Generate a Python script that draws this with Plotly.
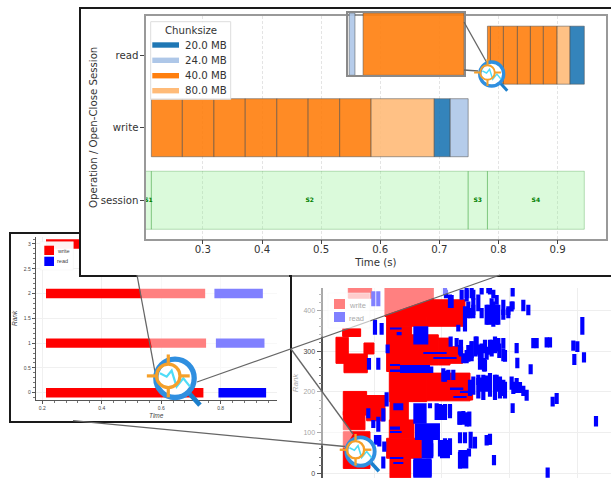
import plotly.graph_objects as go

W, H = 611, 478

# ---------- top panel: I/O timeline ----------
op_positions = [0, 1, 2]
op_labels = ["session", "write", "read"]

chunk_labels = ["20.0 MB", "24.0 MB", "40.0 MB", "80.0 MB"]
chunk_colors = ["#1f77b4", "#aec7e8", "#ff7f0e", "#ffbb78"]

write_edges = [0.2128, 0.2652, 0.3186, 0.3716, 0.425, 0.478, 0.5314, 0.5845, 0.6914, 0.7184, 0.7488]
write_chunks = ["40.0 MB"] * 7 + ["80.0 MB", "20.0 MB", "24.0 MB"]
read_edges = [0.7814, 0.7865, 0.8084, 0.8321, 0.8541, 0.876, 0.8992, 0.9211, 0.9453]
read_chunks = ["40.0 MB"] * 6 + ["80.0 MB", "20.0 MB"]

session_names = ["S1", "S2", "S3", "S4"]
session_edges = [0.2028, 0.2128, 0.7488, 0.7814, 0.9453]

inset_edges = [0.7702, 0.7712, 0.7726, 0.79]
inset_chunks = ["24.0 MB", None, "40.0 MB"]

# ---------- left panel: per-rank timeline ----------
small_ranks = [0, 1, 2, 3]
small_write_start = [0.2125, 0.2125, 0.2125, 0.2125]
small_write_end = [0.742, 0.751, 0.748, 0.75]
small_read_start = [0.7926, 0.784, 0.779, 0.78]
small_read_end = [0.953, 0.9475, 0.942, 0.945]

# ---------- right panel: large run ----------
red_t0 = [17.5, 28.5, 29, 41, 29, 15.8, 13.8, 22.2, 16.2, 36.5, 44.5, 48, 29.8, 41, 54, 30, 29.8, 29, 30, 16, 23, 16, 16]
red_t1 = [24.5, 43, 41, 52.5, 36.5, 21.2, 17.5, 25.2, 23.2, 44.5, 48, 51.8, 41, 54, 54.8, 35.5, 37.2, 39.5, 36.2, 23, 28.5, 22.5, 24]
red_lo = [430, 385, 361, 361, 250, 336, 270, 293, 247, 266, 266, 270, 176, 178, 180, 127, 86, 37, -11, 143, 129, 107, 12]
red_hi = [455, 455, 389, 426, 361, 355, 334, 320, 293, 340, 332, 311, 266, 246, 217, 176, 131, 86, 37, 201, 191, 152, 102]

blue_t = [53, 54.5, 57.5, 60, 66.8, 52.5, 54, 55, 56.5, 59, 60.5, 62, 64, 65.5, 66.8, 70, 71.5, 48, 25.5, 27.5, 25, 26.5, 87.7,
          48.2, 50, 51.3, 53, 54.5, 55.7, 57, 58.2, 59, 60.5, 62.5, 64, 68, 68.2, 72.2, 73, 74, 77, 78, 85, 86.2, 85.3, 88.2, 26.5, 23.7, 29.3,
          46.5, 49, 55, 56.5, 58, 60, 61.5, 63, 64.5, 66.5, 68, 69, 71, 78.8, 80, 29,
          42, 45, 46.5, 48, 50.8, 52, 53, 53.8, 66.8, 91.8, 51, 52.5, 59, 60, 28, 26.5, 25, 23.5, 25.8, 26.8, 28.3,
          41.5, 45, 46.5, 48, 51, 52.5, 53.7, 61.2, 28, 77.3,
          46.8, 48.5, 46.5, 51.5, 53, 55, 59.5, 61, 62, 53.5, 55, 57.5, 59.5, 61, 62.5, 64, 65.5, 66.5, 52.5, 50.5,
          51, 52, 53.5, 54.5, 56, 57.5, 58.5, 60, 61.5, 62.8, 64, 64.5, 57, 58.5,
          46, 47.5, 56.5, 58, 59, 62, 64, 67, 54, 57.5, 70,
          44, 46, 48, 51, 54.2, 55.5]
blue_lo = [430, 430, 439, 439, 434, 377, 381, 389, 398, 365, 365, 365, 377, 381, 402, 398, 388, 406, 340, 340, 410, 410, 340,
           311, 311, 287, 270, 275, 287, 279, 250, 279, 287, 299, 275, 295, 258, 243, 307, 307, 309, 309, 301, 298, 266, 272, 254, 254, 295,
           225, 229, 193, 184, 180, 188, 180, 184, 184, 205, 197, 197, 178, 164, 170, 164,
           160, 131, 131, 135, 119, 119, 115, 115, 148, 115, 74, 74, 68, 70, 127, 102, 111, 135, 70, 66, 53,
           37, 41, 45, 45, 12, 25, 41, 20, 12, -11,
           430, 406, 438, 426, 422, 426, 442, 430, 414, 381, 381, 381, 365, 360, 365, 389, 389, 397, 348, 348,
           291, 270, 274, 283, 291, 279, 295, 291, 295, 283, 307, 274, 254, 250,
           225, 229, 217, 221, 200, 200, 190, 195, 190, 200, 190,
           131, 131, 143, 119, 61, 61]
blue_hi = [451, 455, 455, 455, 455, 410, 406, 430, 439, 414, 430, 414, 402, 406, 422, 426, 414, 439, 377, 369, 447, 447, 384,
           336, 332, 328, 303, 324, 336, 316, 283, 311, 328, 332, 307, 320, 284, 268, 332, 332, 334, 334, 326, 324, 293, 297, 284, 283, 316,
           252, 254, 238, 234, 225, 246, 242, 238, 225, 238, 234, 224, 205, 188, 197, 199,
           172, 170, 170, 170, 152, 153, 150, 152, 172, 141, 101, 101, 94, 97, 160, 139, 131, 160, 94, 94, 78,
           78, 82, 86, 86, 53, 57, 61, 45, 41, 14,
           451, 438, 455, 451, 455, 451, 455, 451, 438, 422, 414, 406, 414, 422, 414, 426, 410, 422, 381, 365,
           315, 295, 315, 324, 336, 319, 328, 328, 336, 319, 332, 303, 283, 279,
           258, 254, 242, 242, 240, 242, 230, 225, 230, 235, 215,
           172, 168, 168, 152, 102, 90]

blob_t0 = [37, 33, 37, 37.5, 40.5, 37, 41.5, 31, 39.5, 37, 45, 50.5, 58.5, 30, 32, 30, 30, 30, 30, 30, 31, 40, 43, 48, 51, 49]
blob_t1 = [41.5, 42, 41, 45, 43, 42.5, 43, 34, 43, 42.5, 48, 53.5, 60.5, 33.5, 33.5, 33, 34.5, 33, 33.5, 34, 34, 47, 50, 52, 54.5, 53]
blob_lo = [316, 246, 122, 82, 41, -11, 246, 155, 37, -8, 37, 12, 70, 353, 339, 265, 251, 107, 100, 36, 23, 293, 281, 207, 199, 186]
blob_hi = [361, 266, 172, 123, 74, 33, 262, 172, 82, 37, 82, 57, 94, 358, 347, 268, 255, 115, 103, 39, 27, 296, 284, 211, 203, 190]

big_time_gridlines = [25.3, 45.6, 66.0, 86.3]


# ---------- layout helpers (pixel frame of the page) ----------
def dom_x(a, b):
    return [a / W, min(b / W, 1)]


def dom_y(top, bottom):
    return [max(1 - bottom / H, 0), 1 - top / H]


def px(x):
    return x / W


def py(y):
    return 1 - y / H


def line_shape(x0, y0, x1, y1, color="#666666", width=1.3):
    return dict(type="line", xref="paper", yref="paper", x0=px(x0), y0=py(y0), x1=px(x1), y1=py(y1),
                line=dict(color=color, width=width))


def rect_shape(x0, y0, x1, y1, fill, line_color="rgba(0,0,0,0)", width=0):
    return dict(type="rect", xref="paper", yref="paper", x0=px(x0), y0=py(y0), x1=px(x1), y1=py(y1),
                fillcolor=fill, line=dict(color=line_color, width=width))


def poly_shape(pts, fill):
    path = "M " + " L ".join(f"{px(a):.5f},{py(b):.5f}" for a, b in pts) + " Z"
    return dict(type="path", xref="paper", yref="paper", path=path, fillcolor=fill, line=dict(width=0))


def open_path(pts, color, width):
    path = "M " + " L ".join(f"{px(a):.5f},{py(b):.5f}" for a, b in pts)
    return dict(type="path", xref="paper", yref="paper", path=path, line=dict(color=color, width=width))


def circle_shape(cx, cy, r, fill, color, width):
    return dict(type="circle", xref="paper", yref="paper", x0=px(cx - r), y0=py(cy + r), x1=px(cx + r), y1=py(cy - r),
                fillcolor=fill, line=dict(color=color, width=width))


def icon(cx, cy, s):
    blue, orange, cyan = "#2f8fe0", "#f5a02a", "#4fdcf7"
    ox, oy = cx - 4.2 * s, cy - 1.5 * s
    wave = [(-9.4, -3.1), (-5.2, -1), (-2.1, -4.8), (1, 5.2), (5.2, 0), (9.4, 5.2)]
    return [
        line_shape(cx + 9 * s, cy + 9.5 * s, cx + 15.6 * s, cy + 16.7 * s, "#1b7fcc", 3 * s),
        circle_shape(cx, cy, 12 * s, "white", blue, 3.3 * s),
        open_path([(cx + a * s, cy + b * s) for a, b in wave], cyan, 1.4 * s),
        circle_shape(ox, oy, 7.3 * s, "rgba(0,0,0,0)", orange, 2 * s),
        line_shape(ox - 13.4 * s, oy, ox - 7.3 * s, oy, orange, 2 * s),
        line_shape(ox + 7.3 * s, oy, ox + 13.4 * s, oy, orange, 2 * s),
        line_shape(ox, oy - 13.4 * s, ox, oy - 7.3 * s, orange, 2 * s),
        line_shape(ox, oy + 7.3 * s, ox, oy + 13.4 * s, orange, 2 * s),
    ]


fig = go.Figure()
cmap = dict(zip(chunk_labels, chunk_colors))
edge = dict(color="rgba(70,70,70,0.55)", width=1)


def hbars(edges, chunks, pos, xa, ya, height=0.8):
    for i, c in enumerate(chunks):
        if c is None:
            continue
        fig.add_trace(go.Bar(orientation="h", y=[pos], base=[edges[i]], x=[edges[i + 1] - edges[i]], width=height,
                             marker=dict(color=cmap[c], opacity=0.9, line=edge), name=c, xaxis=xa, yaxis=ya,
                             showlegend=False))


# --- right chart (lowest subplot)
fig.add_trace(go.Bar(x=[(a + b) / 2 for a, b in zip(red_t0, red_t1)], width=[b - a for a, b in zip(red_t0, red_t1)],
                     base=red_lo, y=[b - a for a, b in zip(red_lo, red_hi)], name="write",
                     marker=dict(color="#ff0000", line=dict(color="#ff0000", width=1)), xaxis="x", yaxis="y"))
fig.add_trace(go.Bar(x=blue_t, width=1.25, base=blue_lo, y=[b - a for a, b in zip(blue_lo, blue_hi)], name="read",
                     marker=dict(color="#0000ff", line=dict(width=0)), xaxis="x", yaxis="y"))
fig.add_trace(go.Bar(x=[(a + b) / 2 for a, b in zip(blob_t0, blob_t1)], width=[b - a for a, b in zip(blob_t0, blob_t1)],
                     base=blob_lo, y=[b - a for a, b in zip(blob_lo, blob_hi)], name="read",
                     marker=dict(color="#0000ff", line=dict(width=0)), xaxis="x", yaxis="y"))

# --- left panel frame (x2/y2) keeps an opaque background through an empty trace
fig.add_trace(go.Scatter(x=[None], y=[None], xaxis="x2", yaxis="y2", showlegend=False))

# --- left chart
fig.add_trace(go.Bar(orientation="h", y=small_ranks, base=small_write_start,
                     x=[b - a for a, b in zip(small_write_start, small_write_end)], width=0.19, name="write",
                     marker=dict(color="#ff0000", line=dict(width=0)), xaxis="x3", yaxis="y3"))
fig.add_trace(go.Bar(orientation="h", y=small_ranks, base=small_read_start,
                     x=[b - a for a, b in zip(small_read_start, small_read_end)], width=0.19, name="read",
                     marker=dict(color="#0000ff", line=dict(width=0)), xaxis="x3", yaxis="y3"))

# --- top panel frame
fig.add_trace(go.Scatter(x=[None], y=[None], xaxis="x4", yaxis="y4", showlegend=False))

# --- top chart
for i, nm in enumerate(session_names):
    fig.add_trace(go.Bar(orientation="h", y=[0], base=[session_edges[i]], x=[session_edges[i + 1] - session_edges[i]],
                         width=0.8, name=nm,
                         marker=dict(color="rgba(144,238,144,0.32)", line=dict(color="rgba(0,128,0,0.25)", width=1)),
                         xaxis="x5", yaxis="y5", showlegend=False))
hbars(write_edges, write_chunks, 1, "x5", "y5")
hbars(read_edges, read_chunks, 2, "x5", "y5")
fig.add_trace(go.Scatter(x=[(session_edges[i] + session_edges[i + 1]) / 2 for i in range(4)], y=[0] * 4,
                         mode="text", text=session_names, cliponaxis=False,
                         textfont=dict(family="DejaVu Sans", size=6, color="#008000", weight=700),
                         xaxis="x5", yaxis="y5", showlegend=False))

# --- inset
hbars(inset_edges, inset_chunks, 0.5, "x6", "y6", height=1)

small_font = dict(family="Liberation Sans", size=5, color="#444444")
spine = dict(showline=True, linecolor="#999999", linewidth=1.5, mirror=True, zeroline=False)
frame = dict(showline=True, linecolor="#1a1a1a", linewidth=2, zeroline=False, showgrid=False,
             showticklabels=False, ticks="", range=[0, 1])
grid_dash = dict(showgrid=True, gridcolor="#e4e4e4", griddash="3px,2px", gridwidth=1)

fig.update_layout(
    width=W, height=H, autosize=False, margin=dict(l=0, r=0, t=0, b=0), paper_bgcolor="white", plot_bgcolor="white",
    showlegend=False, barmode="overlay", hovermode=False,
    xaxis=dict(domain=dom_x(323.3, W), range=[10, 96.3], tickvals=big_time_gridlines, showticklabels=False, ticks="",
               showgrid=True, gridcolor="#eeeeee", zeroline=False, showline=False, anchor="y"),
    yaxis=dict(domain=dom_y(288, H), range=[-11.5, 455], tick0=0, dtick=100, showgrid=True, gridcolor="#eeeeee",
               zeroline=False, showline=True, linecolor="#555555", linewidth=1.5, ticks="outside", ticklen=5,
               tickcolor="#555555", tickfont=dict(family="Liberation Sans", size=7, color="#444444"),
               minor=dict(ticks="outside", ticklen=3, dtick=20, tickcolor="#777777"),
               title=dict(text="<i>Rank</i>", standoff=4, font=dict(family="Liberation Sans", size=8, color="#aaaaaa")),
               anchor="x"),
    xaxis2=dict(domain=dom_x(10.7, 290.3), anchor="y2", mirror=True, **frame),
    yaxis2=dict(domain=dom_y(234, 420.7), anchor="x2", mirror=True, **frame),
    xaxis3=dict(domain=dom_x(35.7, 276.7), anchor="y3", range=[0.1778, 0.9886], tick0=0.2, dtick=0.2, tickformat=".1f",
                showgrid=True, gridcolor="#f0f0f0", zeroline=False, showline=True, linecolor="#555555", linewidth=1,
                ticks="outside", ticklen=3, tickcolor="#555555", tickfont=small_font,
                minor=dict(ticks="outside", ticklen=1.5, dtick=0.04, tickcolor="#777777"),
                title=dict(text="<i>Time</i>", standoff=3, font=dict(family="Liberation Sans", size=6.5, color="#444444"))),
    yaxis3=dict(domain=dom_y(236.7, 400), anchor="x3", range=[-0.147, 3.147], tick0=0, dtick=0.5,
                showgrid=True, gridcolor="#f0f0f0", zeroline=False, showline=True, linecolor="#555555", linewidth=1,
                ticks="outside", ticklen=3, tickcolor="#555555", tickfont=small_font,
                minor=dict(ticks="outside", ticklen=1.5, dtick=0.1, tickcolor="#777777"),
                title=dict(text="<i>Rank</i>", standoff=5, font=dict(family="Liberation Sans", size=6.5, color="#444444"))),
    xaxis4=dict(domain=dom_x(81, W), anchor="y4", mirror=True, **frame),
    yaxis4=dict(domain=dom_y(9, 275), anchor="x4", mirror=False, **frame),
    xaxis5=dict(domain=dom_x(145.7, 606), anchor="y5", range=[0.2032, 0.982], tickvals=[0.3, 0.4, 0.5, 0.6, 0.7, 0.8, 0.9],
                tickformat=".1f", ticks="outside", ticklen=3.5, tickcolor="#444444", ticklabelstandoff=-3,
                tickfont=dict(family="DejaVu Sans", size=10.2, color="#333333"),
                title=dict(text="Time (s)", standoff=5, font=dict(family="DejaVu Sans", size=10.2, color="#333333")),
                **spine, **grid_dash),
    yaxis5=dict(domain=dom_y(16, 238.7), anchor="x5", range=[-0.53, 2.54], tickvals=op_positions, ticktext=op_labels,
                ticks="outside", ticklen=3.5, tickcolor="#444444", showgrid=False,
                tickfont=dict(family="DejaVu Sans", size=10.2, color="#333333"),
                title=dict(text="Operation / Open-Close Session", standoff=1,
                           font=dict(family="DejaVu Sans", size=10.2, color="#333333")),
                **spine),
    xaxis6=dict(domain=dom_x(348, 464), anchor="y6", range=[0.77, 0.79], showticklabels=False, ticks="", showgrid=False,
                showline=True, linecolor="#8a8a8a", linewidth=1.5, mirror=True, zeroline=False),
    yaxis6=dict(domain=dom_y(13, 75.3), anchor="x6", range=[0, 1], showticklabels=False, ticks="", showgrid=False,
                showline=True, linecolor="#8a8a8a", linewidth=1.5, mirror=True, zeroline=False),
)

shapes = []
# zoom cones: translucent white veils
shapes.append(poly_shape([(137, 275), (158, 378), (197, 382), (289, 349.5), (289, 275)], "rgba(255,255,255,0.5)"))
shapes.append(poly_shape([(292, 275), (292, 347.3), (500, 275)], "rgba(255,255,255,0.5)"))
shapes.append(poly_shape([(292, 350), (353, 434), (345, 448), (292, 442)], "rgba(255,255,255,0.5)"))
# connector lines
shapes += [line_shape(137, 275, 155, 372), line_shape(197, 382, 500, 275),
           line_shape(73, 420.7, 345, 446.5), line_shape(291, 349, 353, 434),
           line_shape(464, 22, 487, 63), line_shape(464, 70, 478, 71)]

# left legend box
shapes.append(rect_shape(40, 241.7, 73.3, 270, "rgba(255,255,255,0.95)", "#f0f0f0", 0.5))
shapes.append(rect_shape(44.3, 245.7, 54, 255, "#ff0000"))
shapes.append(rect_shape(44.3, 256.7, 54, 266, "#0000ff"))
# right legend box
shapes.append(rect_shape(328, 293, 370, 328, "rgba(255,255,255,0.6)", "#f6f6f6", 0.5))
shapes.append(rect_shape(334, 299, 345, 309, "#ff8080"))
shapes.append(rect_shape(334, 312, 345, 322, "#8080ff"))
# chunk-size legend
shapes.append(dict(type="rect", xref="paper", yref="paper", x0=px(150.7), y0=py(21.7), x1=px(230.7), y1=py(99.3),
                   fillcolor="rgba(255,255,255,0.85)", line=dict(color="#dddddd", width=1)))
legend_rows = [45, 60.3, 75.7, 90.7]
for yy, col in zip(legend_rows, chunk_colors):
    shapes.append(rect_shape(152.3, yy - 2.7, 179, yy + 2.7, col))

# magnifier icons
shapes += icon(491.7, 74, 1.0)
shapes += icon(175, 378.3, 1.6)
shapes += icon(360.5, 451.5, 1.18)
for s in shapes:
    s["layer"] = "above"
fig.update_layout(shapes=shapes)


def note(x, y, text, size, color, family, anchor="left"):
    fig.add_annotation(xref="paper", yref="paper", x=px(x), y=py(y), text=text, showarrow=False, xanchor=anchor,
                       yanchor="middle", font=dict(size=size, color=color, family=family), borderpad=0)


note(190.5, 30, "Chunksize", 10.2, "#333333", "DejaVu Sans", "center")
for yy, lab in zip(legend_rows, chunk_labels):
    note(184, yy, lab, 10.2, "#333333", "DejaVu Sans")
note(56, 250.7, "write", 5.5, "#444444", "Liberation Sans")
note(56, 261.3, "read", 5.5, "#444444", "Liberation Sans")
note(348, 305, "write", 7.5, "#aaaaaa", "Liberation Sans")
note(348, 318, "read", 7.5, "#aaaaaa", "Liberation Sans")

fig.write_html("out.html", config={"displayModeBar": False},
               post_script="document.body.style.margin='0';")
